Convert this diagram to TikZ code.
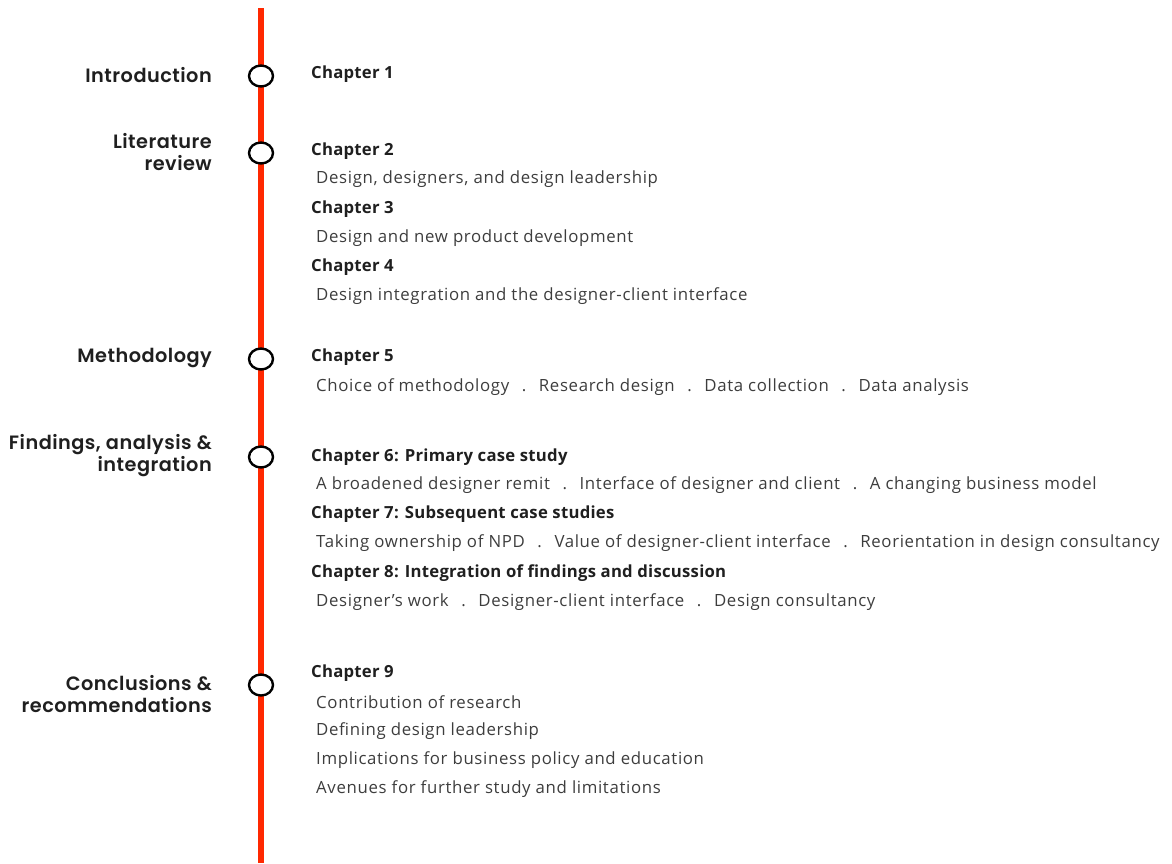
\documentclass[tikz,border=0pt]{standalone}
\usepackage{fontspec}
\setmainfont{Open Sans}[LetterSpace=3.9,BoldFeatures={LetterSpace=1.5}]
\newfontfamily\labelfont{Poppins}[UprightFont=* SemiBold,BoldFont=* Bold,LetterSpace=2.5]
\definecolor{railred}{RGB}{255,40,0}
\newcommand{\sep}{\hspace{0.75em}.\hspace{0.75em}}
\begin{document}
\begin{tikzpicture}[x=1pt,y=-1pt,
  section/.style={anchor=east,align=right,inner sep=0pt,font=\labelfont\fontsize{19.3}{22}\selectfont,text=black!88},
  chap/.style={anchor=west,inner sep=0pt,font=\bfseries\fontsize{16.7}{18}\selectfont,text=black!88},
  item/.style={anchor=west,inner sep=0pt,font=\fontsize{16.8}{18}\selectfont,text=black!76},
  rail/.style={draw=railred,line width=6pt},
  station/.style={line width=2.4pt,draw=black,fill=white}]
\useasboundingbox (0,0) rectangle (1172,863);

% the timeline rail and its stations
\coordinate (top) at (261,8);
\coordinate (bottom) at (261,863);
\path (261,76)  coordinate (s1)
      (261,153) coordinate (s2)
      (261,359) coordinate (s3)
      (261,457) coordinate (s4)
      (261,685) coordinate (s5);
\draw[rail] (top) -- (s1) -- (s2) -- (s3) -- (s4) -- (s5) -- (bottom);
\foreach \s in {s1,s2,s3,s4,s5}
  \draw[station] (\s) ellipse [x radius=12, y radius=10.5];

% section labels
\node[section] (l1) at (212,75)  {Introduction};
\node[section] (l2) at (212,152) {Literature\\review};
\node[section] (l3) at (212,358) {Methodology};
\node[section] (l4) at (212,456) {Findings, analysis \&\\integration};
\node[section] (l5) at (212,694) {Conclusions \&\\recommendations};

% chapters
\node[chap] (c1) at (311,74)  {Chapter 1};
\node[chap] (c2) at (311,151) {Chapter 2};
\node[item] (i2) at (316,179) {Design, designers, and design leadership};
\node[chap] (c3) at (311,209) {Chapter 3};
\node[item] (i3) at (316,238) {Design and new product development};
\node[chap] (c4) at (311,267) {Chapter 4};
\node[item] (i4) at (316,296) {Design integration and the designer-client interface};
\node[chap] (c5) at (311,357) {Chapter 5};
\node[item] (i5) at (316,387) {Choice of methodology\sep Research design\sep Data collection\sep Data analysis};
\node[chap] (c6) at (311,457) {Chapter 6: Primary case study};
\node[item] (i6) at (316,485) {A broadened designer remit\sep Interface of designer and client\sep A changing business model};
\node[chap] (c7) at (311,514) {Chapter 7: Subsequent case studies};
\node[item] (i7) at (316,543) {Taking ownership of NPD\sep Value of designer-client interface\sep Reorientation in design consultancy};
\node[chap] (c8) at (311,573) {Chapter 8: Integration of findings and discussion};
\node[item] (i8) at (316,602) {Designer's work\sep Designer-client interface\sep Design consultancy};
\node[chap] (c9) at (311,673) {Chapter 9};
\node[item] (i9a) at (316,702) {Contribution of research};
\node[item] (i9b) at (316,731) {Defining design leadership};
\node[item] (i9c) at (316,760) {Implications for business policy and education};
\node[item] (i9d) at (316,789) {Avenues for further study and limitations};
\end{tikzpicture}
\end{document}
